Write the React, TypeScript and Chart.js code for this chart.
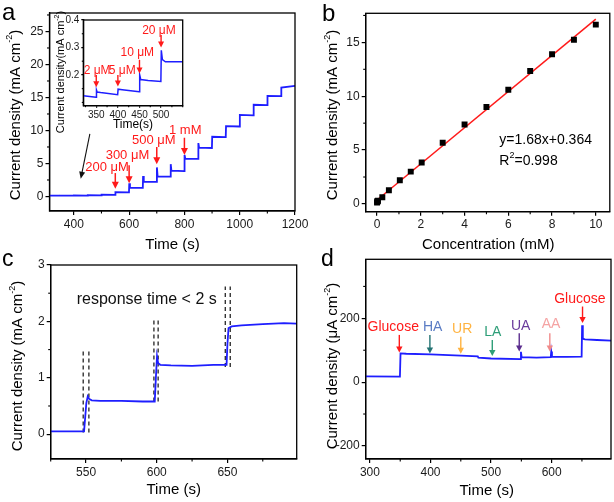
import React, { useEffect, useRef } from "react";
import { Chart, registerables } from "chart.js";
Chart.register(...registerables);

const FONT = "'Liberation Sans', Arial, Helvetica, sans-serif";
const PAGE_W = 614;
const PAGE_H = 502;
const BLUE = "#1e1eff";
const RED = "#ff1a1a";

// ---------- Panel a : amperometric response (main) ----------
const aTime = [312, 349.5, 350.5, 399.5, 400.5, 449.5, 450.5, 499.5, 500.5, 549.5, 550.5, 599.5, 600.5, 603, 649.5, 650.5, 653, 699.5, 700.5, 703, 749.5, 750.5, 753, 799.5, 800.5, 803, 849.5, 850.5, 853, 899.5, 900.5, 949.5, 950.5, 999.5, 1000.5, 1049.5, 1050.5, 1099.5, 1100.5, 1149.5, 1150.5, 1200];
const aCurrent = [0.12, 0.12, 0.14, 0.13, 0.15, 0.14, 0.19, 0.18, 0.27, 0.25, 0.65, 0.62, 2.0, 1.33, 1.3, 3.1, 2.25, 2.2, 4.4, 3.05, 3.0, 4.9, 3.9, 3.85, 6.3, 5.75, 5.7, 8.1, 7.4, 7.35, 9.05, 9.0, 10.65, 10.6, 12.35, 12.3, 13.9, 13.85, 15.25, 15.2, 16.5, 16.75];
const aXTicks = [400, 600, 800, 1000, 1200];
const aYTicks = [0, 5, 10, 15, 20, 25];
const aArrowX = [550, 600, 700, 800];
const aArrowTop = [3.55, 4.72, 7.5, 8.9];
const aArrowTip = [1.17, 2.0, 4.9, 6.3];
const aLabels = ["200 μM", "300 μM", "500 μM", "1 mM"];
const aLabelX = [520, 594, 689, 803];
const aLabelY = [4.41, 6.29, 8.52, 10.05];
const aPointerFrom = [458, 9.5];
const aPointerTo = [425, 2.7];

// ---------- Panel a : inset ----------
const insetTime = [320, 349.5, 350.5, 352, 360, 399.5, 400.5, 410, 449.5, 450.5, 453, 470, 499.5, 500.5, 503, 510, 550];
const insetCurrent = [0.124, 0.119, 0.145, 0.138, 0.136, 0.128, 0.148, 0.146, 0.139, 0.2, 0.183, 0.18, 0.176, 0.29, 0.256, 0.248, 0.248];
const insetXTicks = [350, 400, 450, 500];
const insetYTicks = [0.2, 0.3, 0.4];
const insetArrowX = [350, 400, 450, 500];
const insetArrowTop = [0.2, 0.2, 0.255, 0.345];
const insetArrowTip = [0.155, 0.158, 0.205, 0.3];
const insetLabels = ["2 μM", "5 μM", "10 μM", "20 μM"];
const insetLabelX = [352, 410, 445, 495];
const insetLabelY = [0.216, 0.216, 0.28, 0.362];

// ---------- Panel b : calibration ----------
const bConc = [0, 0.01, 0.02, 0.04, 0.24, 0.54, 1.04, 1.54, 2.04, 3, 4, 5, 6, 7, 8, 9, 10];
const bCurrent = [0.13, 0.2, 0.28, 0.3, 0.62, 1.27, 2.2, 3.0, 3.85, 5.68, 7.38, 9.0, 10.6, 12.35, 13.9, 15.25, 16.65];
const bFitX = [0, 10];
const bFitY = [0.364, 17.164];
const bXTicks = [0, 2, 4, 6, 8, 10];
const bYTicks = [0, 5, 10, 15];

// ---------- Panel c : response time ----------
const cTime = [525, 548.6, 549.4, 550.2, 551.2, 552, 554, 560, 575, 590, 598.6, 599.4, 600.2, 601, 602.5, 610, 625, 640, 649.4, 650, 650.8, 653, 660, 675, 690, 699];
const cCurrent = [0.05, 0.05, 0.3, 0.55, 0.67, 0.63, 0.6, 0.59, 0.59, 0.58, 0.58, 1.0, 1.38, 1.26, 1.23, 1.22, 1.21, 1.23, 1.23, 1.6, 1.88, 1.91, 1.93, 1.95, 1.97, 1.96];
const cXTicks = [550, 600, 650];
const cYTicks = [0, 1, 2, 3];
const cDashX = [548, 552, 598, 601, 648.5, 652];
const cDashTop = [1.5, 1.5, 2.02, 2.02, 2.62, 2.62];
const cDashBottom = [0.03, 0.03, 0.58, 0.58, 1.19, 1.19];

// ---------- Panel d : selectivity ----------
const dTime = [293, 349.5, 350.5, 360, 400, 450, 478, 479, 500, 548.5, 549.3, 550.5, 575, 598.5, 599.3, 600.5, 625, 649.5, 650.3, 651.5, 655, 675, 698];
const dCurrent = [18, 17, 90, 89, 87, 83, 81, 77, 74, 72, 95, 78, 77, 78, 96, 79, 79, 80, 178, 136, 134, 132, 130];
const dXTicks = [300, 400, 500, 600];
const dYTicks = [-200, 0, 200];
const dLabels = ["Glucose", "HA", "UR", "LA", "UA", "AA", "Glucose"];
const dArrowX = [348.5, 399, 450, 502, 546.5, 597, 651];
const dArrowTop = [148, 148, 142.6, 132, 153, 153, 237];
const dArrowTip = [93, 90, 89, 82, 96, 96, 185];
const dLabelX = [338.5, 403.6, 452.3, 503, 548.8, 599, 646.5];
const dLabelY = [171.5, 171.5, 166, 156, 177, 183, 261];
const dTextColors = ["#ff1a1a", "#5b7cc4", "#ffb340", "#2e9e78", "#6a3b9c", "#f5a3a3", "#ff1a1a"];
const dArrowColors = ["#ff1a1a", "#237373", "#ffb340", "#2e9e78", "#5b2d8e", "#f08a8a", "#ff1a1a"];

type Seg = { t: string; sup?: boolean };

function drawRich(ctx: CanvasRenderingContext2D, segs: Seg[], x: number, y: number, size: number, rotate = false, align: "center" | "left" = "center", color = "#000") {
  ctx.save();
  ctx.translate(x, y);
  if (rotate) ctx.rotate(-Math.PI / 2);
  ctx.fillStyle = color;
  ctx.textBaseline = "middle";
  ctx.textAlign = "left";
  const supSize = Math.round(size * 0.62);
  let total = 0;
  const widths = segs.map((s) => {
    ctx.font = `${s.sup ? supSize : size}px ${FONT}`;
    const w = ctx.measureText(s.t).width;
    total += w;
    return w;
  });
  let cx = align === "left" ? 0 : -total / 2;
  segs.forEach((s, i) => {
    ctx.font = `${s.sup ? supSize : size}px ${FONT}`;
    ctx.fillText(s.t, cx, s.sup ? -size * 0.4 : 0);
    cx += widths[i];
  });
  ctx.restore();
}

function arrow(ctx: CanvasRenderingContext2D, x1: number, y1: number, x2: number, y2: number, color: string, lw = 1.5, headLen = 7, headW = 3.5) {
  const dx = x2 - x1, dy = y2 - y1;
  const L = Math.hypot(dx, dy);
  const ux = dx / L, uy = dy / L;
  const bx = x2 - ux * headLen, by = y2 - uy * headLen;
  ctx.save();
  ctx.strokeStyle = color;
  ctx.fillStyle = color;
  ctx.lineWidth = lw;
  ctx.beginPath();
  ctx.moveTo(x1, y1);
  ctx.lineTo(bx + ux, by + uy);
  ctx.stroke();
  ctx.beginPath();
  ctx.moveTo(x2, y2);
  ctx.lineTo(bx - uy * headW, by + ux * headW);
  ctx.lineTo(bx + uy * headW, by - ux * headW);
  ctx.closePath();
  ctx.fill();
  ctx.restore();
}

function text(ctx: CanvasRenderingContext2D, s: string, x: number, y: number, size: number, color = "#000", align: CanvasTextAlign = "center") {
  ctx.save();
  ctx.font = `${size}px ${FONT}`;
  ctx.fillStyle = color;
  ctx.textAlign = align;
  ctx.textBaseline = "middle";
  ctx.fillText(s, x, y);
  ctx.restore();
}

function letter(ctx: CanvasRenderingContext2D, s: string, x: number, y: number, size: number) {
  ctx.save();
  ctx.font = `${size}px ${FONT}`;
  ctx.fillStyle = "#000";
  ctx.textAlign = "left";
  ctx.textBaseline = "alphabetic";
  ctx.fillText(s, x, y);
  ctx.restore();
}

type AxisSpec = { min: number; max: number; ticks: number[]; minor: number };
type Spec = {
  area: { l: number; t: number; r: number; b: number };
  x: AxisSpec;
  y: AxisSpec;
  tickSize: number;
  tickLen: number;
  minorLen: number;
  yAxisW: number;
  xAxisH: number;
  datasets: any[];
  draw: (ctx: CanvasRenderingContext2D, px: (v: number) => number, py: (v: number) => number) => void;
};

const pts = (xs: number[], ys: number[]) => xs.map((x, i) => ({ x, y: ys[i] }));

function fmt(v: number) {
  return String(Number(v.toFixed(4)));
}

function buildChart(canvas: HTMLCanvasElement, spec: Spec) {
  const { area } = spec;
  const axis = (a: AxisSpec, isX: boolean) => ({
    type: "linear",
    min: a.min,
    max: a.max,
    afterBuildTicks: (s: any) => {
      s.ticks = a.ticks.map((v) => ({ value: v }));
    },
    afterFit: (s: any) => {
      if (isX) s.height = spec.xAxisH;
      else s.width = spec.yAxisW;
    },
    ticks: {
      autoSkip: false,
      maxRotation: 0,
      minRotation: 0,
      padding: 2,
      color: "#1a1a1a",
      font: { family: FONT, size: spec.tickSize },
      callback: (v: number) => fmt(v),
    },
    grid: { display: true, drawOnChartArea: false, drawTicks: true, tickLength: spec.tickLen, color: "#000", lineWidth: 1.2 },
    border: { display: true, color: "#000", width: 1.3 },
  });
  const plugin = {
    id: "decor",
    afterDraw(chart: any) {
      const ctx: CanvasRenderingContext2D = chart.ctx;
      const ca = chart.chartArea;
      const xs = chart.scales.x;
      const ys = chart.scales.y;
      ctx.save();
      ctx.strokeStyle = "#000";
      ctx.lineWidth = 1.3;
      ctx.strokeRect(ca.left, ca.top, ca.right - ca.left, ca.bottom - ca.top);
      ctx.lineWidth = 1.1;
      const isMajor = (a: AxisSpec, v: number) => a.ticks.some((t) => Math.abs(t - v) < a.minor * 1e-3);
      const mx = spec.x, my = spec.y;
      for (let k = Math.ceil(mx.min / mx.minor); k * mx.minor <= mx.max + 1e-9; k++) {
        const v = k * mx.minor;
        if (isMajor(mx, v)) continue;
        const p = xs.getPixelForValue(v);
        ctx.beginPath();
        ctx.moveTo(p, ca.bottom);
        ctx.lineTo(p, ca.bottom + spec.minorLen);
        ctx.stroke();
      }
      for (let k = Math.ceil(my.min / my.minor); k * my.minor <= my.max + 1e-9; k++) {
        const v = k * my.minor;
        if (isMajor(my, v)) continue;
        const p = ys.getPixelForValue(v);
        ctx.beginPath();
        ctx.moveTo(ca.left, p);
        ctx.lineTo(ca.left - spec.minorLen, p);
        ctx.stroke();
      }
      ctx.restore();
      spec.draw(ctx, (v) => xs.getPixelForValue(v), (v) => ys.getPixelForValue(v));
    },
  };
  return new Chart(canvas, {
    type: "line",
    data: { datasets: spec.datasets },
    options: {
      animation: false,
      responsive: false,
      devicePixelRatio: 1,
      events: [],
      layout: {
        padding: {
          left: area.l - spec.yAxisW,
          top: area.t,
          right: PAGE_W - area.r,
          bottom: PAGE_H - area.b - spec.xAxisH,
        },
      },
      plugins: { legend: { display: false }, tooltip: { enabled: false } },
      scales: { x: axis(spec.x, true), y: axis(spec.y, false) } as any,
    },
    plugins: [plugin],
  } as any);
}

const lineDs = (data: any[], color = BLUE, width = 1.6) => ({
  data,
  borderColor: color,
  backgroundColor: color,
  borderWidth: width,
  pointRadius: 0,
  tension: 0,
  fill: false,
});

const currentTitle = (unit: string): Seg[] => [
  { t: `Current density (${unit} cm` },
  { t: "-2", sup: true },
  { t: ")" },
];

function makeSpecs(): Spec[] {
  const specA: Spec = {
    area: { l: 49.5, t: 13, r: 295, b: 211 },
    x: { min: 312, max: 1200, ticks: aXTicks, minor: 100 },
    y: { min: -2.2, max: 27.8, ticks: aYTicks, minor: 2.5 },
    tickSize: 12,
    tickLen: 4,
    minorLen: 2.5,
    yAxisW: 40,
    xAxisH: 24,
    datasets: [lineDs(pts(aTime, aCurrent), BLUE, 1.8)],
    draw: (ctx, px, py) => {
      aArrowX.forEach((t, i) => arrow(ctx, px(t), py(aArrowTop[i]), px(t), py(aArrowTip[i]), RED, 1.5, 7, 3.5));
      aLabels.forEach((s, i) => text(ctx, s, px(aLabelX[i]), py(aLabelY[i]), 13, RED));
      arrow(ctx, px(aPointerFrom[0]), py(aPointerFrom[1]), px(aPointerTo[0]), py(aPointerTo[1]), "#111", 1.1, 7, 3);
      drawRich(ctx, currentTitle("mA"), 16, 115, 15, true);
      text(ctx, "Time (s)", 172.5, 245, 15);
      letter(ctx, "a", 2, 20, 24);
    },
  };
  const specInset: Spec = {
    area: { l: 83.3, t: 20, r: 182.7, b: 105.7 },
    x: { min: 320, max: 550, ticks: insetXTicks, minor: 25 },
    y: { min: 0.088, max: 0.4, ticks: insetYTicks, minor: 0.05 },
    tickSize: 10,
    tickLen: 2,
    minorLen: 1.5,
    yAxisW: 22,
    xAxisH: 16,
    datasets: [lineDs(pts(insetTime, insetCurrent), BLUE, 1.5)],
    draw: (ctx, px, py) => {
      insetArrowX.forEach((t, i) => arrow(ctx, px(t), py(insetArrowTop[i]), px(t), py(insetArrowTip[i]), RED, 1.4, 6, 3));
      insetLabels.forEach((s, i) => text(ctx, s, px(insetLabelX[i]), py(insetLabelY[i]), 12, RED));
      drawRich(ctx, [{ t: "Current density(mA cm" }, { t: "-2", sup: true }, { t: ")" }], 61, 72, 11, true);
      text(ctx, "Time(s)", 133, 125, 12);
    },
  };
  const specB: Spec = {
    area: { l: 365.7, t: 13.3, r: 611, b: 211.7 },
    x: { min: -0.52, max: 10.64, ticks: bXTicks, minor: 1 },
    y: { min: -0.72, max: 17.7, ticks: bYTicks, minor: 2.5 },
    tickSize: 12,
    tickLen: 4,
    minorLen: 2.5,
    yAxisW: 40,
    xAxisH: 24,
    datasets: [
      {
        data: pts(bConc, bCurrent),
        showLine: false,
        pointStyle: "rect",
        pointRadius: 4.2,
        pointBackgroundColor: "#000",
        pointBorderColor: "#000",
        pointBorderWidth: 0,
        borderColor: "#000",
        backgroundColor: "#000",
      },
      lineDs(pts(bFitX, bFitY), RED, 1.5),
    ],
    draw: (ctx, px, py) => {
      text(ctx, "y=1.68x+0.364", px(5.59), py(5.95), 14, "#000", "left");
      drawRich(ctx, [{ t: "R" }, { t: "2", sup: true }, { t: "=0.998" }], px(5.59), py(3.93), 14, false, "left");
      drawRich(ctx, currentTitle("mA"), 333.3, 115, 15, true);
      text(ctx, "Concentration (mM)", 488.3, 245, 15);
      letter(ctx, "b", 322, 21, 24);
    },
  };
  const specC: Spec = {
    area: { l: 50.7, t: 265, r: 296.7, b: 459 },
    x: { min: 525, max: 699, ticks: cXTicks, minor: 25 },
    y: { min: -0.44, max: 3, ticks: cYTicks, minor: 0.5 },
    tickSize: 12,
    tickLen: 4,
    minorLen: 2.5,
    yAxisW: 40,
    xAxisH: 24,
    datasets: [
      lineDs(pts(cTime, cCurrent), BLUE, 1.8),
      ...cDashX.map((x, i) => ({
        data: [{ x, y: cDashBottom[i] }, { x, y: cDashTop[i] }],
        borderColor: "#333",
        borderWidth: 1.4,
        borderDash: [4, 3],
        pointRadius: 0,
        fill: false,
      })),
    ],
    draw: (ctx, px, py) => {
      text(ctx, "response time < 2 s", px(592.9), py(2.39), 16, "#111");
      drawRich(ctx, currentTitle("mA"), 18.3, 366, 15, true);
      text(ctx, "Time (s)", 173.7, 490, 15);
      letter(ctx, "c", 2, 266, 23);
    },
  };
  const specD: Spec = {
    area: { l: 365.7, t: 259.3, r: 611, b: 459 },
    x: { min: 293, max: 698, ticks: dXTicks, minor: 50 },
    y: { min: -241, max: 385, ticks: dYTicks, minor: 100 },
    tickSize: 12,
    tickLen: 4,
    minorLen: 2.5,
    yAxisW: 40,
    xAxisH: 24,
    datasets: [lineDs(pts(dTime, dCurrent), BLUE, 1.8)],
    draw: (ctx, px, py) => {
      dArrowX.forEach((t, i) => arrow(ctx, px(t), py(dArrowTop[i]), px(t), py(dArrowTip[i]), dArrowColors[i], 1.4, 6, 3.2));
      dLabels.forEach((s, i) => text(ctx, s, px(dLabelX[i]), py(dLabelY[i]), 14, dTextColors[i]));
      drawRich(ctx, currentTitle("μA"), 333.3, 366, 15, true);
      text(ctx, "Time (s)", 486.7, 490.7, 15);
      letter(ctx, "d", 321, 266, 23);
    },
  };
  return [specA, specInset, specB, specC, specD];
}

export default function App() {
  const canvases = useRef<(HTMLCanvasElement | null)[]>([]);
  const count = 5;
  useEffect(() => {
    const charts = makeSpecs().map((s, i) => buildChart(canvases.current[i]!, s));
    return () => charts.forEach((c) => c.destroy());
  }, []);
  return (
    <div style={{ position: "absolute", left: 0, top: 0, width: PAGE_W, height: PAGE_H, background: "#fff" }}>
      {Array.from({ length: count }).map((_, i) => (
        <canvas
          key={i}
          ref={(el) => {
            canvases.current[i] = el;
          }}
          width={PAGE_W}
          height={PAGE_H}
          style={{ position: "absolute", left: 0, top: 0, width: PAGE_W, height: PAGE_H }}
        />
      ))}
    </div>
  );
}
